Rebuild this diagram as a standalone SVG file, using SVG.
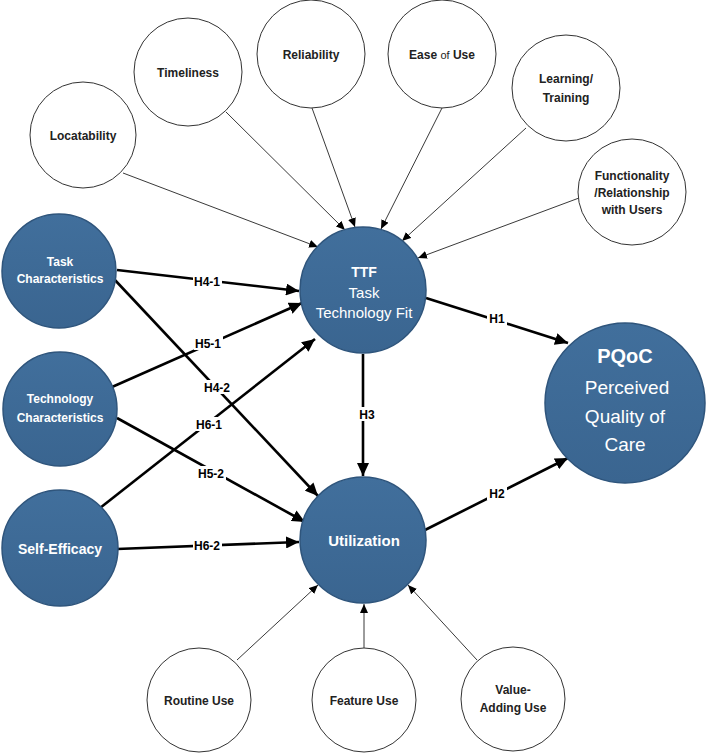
<svg xmlns="http://www.w3.org/2000/svg" width="709" height="753" viewBox="0 0 709 753">
<defs>
<linearGradient id="blue" x1="0" y1="0" x2="0" y2="1">
<stop offset="0" stop-color="#416f9c"/>
<stop offset="1" stop-color="#3a6590"/>
</linearGradient>
<marker id="ah" markerUnits="userSpaceOnUse" markerWidth="14" markerHeight="12" refX="13" refY="6" orient="auto">
<path d="M0,0 L13,6 L0,12 z" fill="#000"/>
</marker>
<marker id="at" markerUnits="userSpaceOnUse" markerWidth="10" markerHeight="8" refX="9" refY="4" orient="auto">
<path d="M0,0 L9,4 L0,8 z" fill="#000"/>
</marker>
</defs>
<style>
.w{fill:#fff;stroke:#333;stroke-width:1}
.b{fill:url(#blue);stroke:#2f557c;stroke-width:1.5}
.wt{font-family:"Liberation Sans",Arial,sans-serif;font-size:12px;font-weight:bold;fill:#222;text-anchor:middle}
.bt{font-family:"Liberation Sans",Arial,sans-serif;font-weight:bold;fill:#fff;text-anchor:middle}
.br{font-family:"Liberation Sans",Arial,sans-serif;fill:#fff;text-anchor:middle}
.thin{stroke:#222;stroke-width:0.9;fill:none;marker-end:url(#at)}
.thick{stroke:#000;stroke-width:2.6;fill:none;marker-end:url(#ah)}
.lb{font-family:"Liberation Sans",Arial,sans-serif;font-size:12px;font-weight:bold;fill:#000;text-anchor:middle}
.lbg{fill:#fff}
</style>
<g id="connectors">
<line class="thin" x1="123" y1="173" x2="318" y2="247"/>
<line class="thin" x1="226" y1="112" x2="345" y2="230"/>
<line class="thin" x1="312" y1="108" x2="355" y2="227"/>
<line class="thin" x1="442" y1="108" x2="381" y2="229"/>
<line class="thin" x1="526" y1="128" x2="402" y2="241"/>
<line class="thin" x1="579" y1="198" x2="418" y2="258"/>
<line class="thin" x1="237" y1="660" x2="318" y2="585"/>
<line class="thin" x1="364" y1="648" x2="364" y2="604"/>
<line class="thin" x1="477" y1="660" x2="408" y2="585"/>
<line class="thick" x1="117" y1="270" x2="299" y2="291"/>
<line class="thick" x1="112" y1="387" x2="302" y2="303"/>
<line class="thick" x1="100" y1="508" x2="315" y2="339"/>
<line class="thick" x1="114" y1="279" x2="318" y2="496"/>
<line class="thick" x1="117" y1="418" x2="305" y2="522"/>
<line class="thick" x1="117" y1="549" x2="299" y2="542"/>
<line class="thick" x1="363" y1="354" x2="363" y2="476"/>
<line class="thick" x1="426" y1="298" x2="568" y2="343"/>
<line class="thick" x1="425" y1="530" x2="568" y2="458"/>
<rect class="lbg" x="193" y="274" width="29" height="14"/><text class="lb" x="207" y="286">H4-1</text>
<rect class="lbg" x="194" y="336" width="29" height="14"/><text class="lb" x="208" y="348">H5-1</text>
<rect class="lbg" x="203" y="380" width="29" height="14"/><text class="lb" x="217" y="392">H4-2</text>
<rect class="lbg" x="195" y="417" width="29" height="14"/><text class="lb" x="209" y="429">H6-1</text>
<rect class="lbg" x="197" y="466" width="29" height="14"/><text class="lb" x="211" y="478">H5-2</text>
<rect class="lbg" x="193" y="538" width="29" height="14"/><text class="lb" x="207" y="550">H6-2</text>
<rect class="lbg" x="356" y="407" width="22" height="14"/><text class="lb" x="367" y="419">H3</text>
<rect class="lbg" x="487" y="311" width="20" height="14"/><text class="lb" x="497" y="323">H1</text>
<rect class="lbg" x="487" y="486" width="20" height="14"/><text class="lb" x="497" y="498">H2</text>
</g>
<g id="locatability"><ellipse class="w" cx="83" cy="135" rx="53" ry="53"/><text class="wt" x="83" y="140">Locatability</text></g>
<g id="timeliness"><ellipse class="w" cx="188" cy="72" rx="54" ry="54"/><text class="wt" x="188" y="77">Timeliness</text></g>
<g id="reliability"><ellipse class="w" cx="311" cy="54" rx="54" ry="54"/><text class="wt" x="311" y="59">Reliability</text></g>
<g id="easeofuse"><ellipse class="w" cx="442" cy="54" rx="54" ry="54"/><text class="wt" x="442" y="59">Ease <tspan font-weight="normal" font-size="11">of</tspan> Use</text></g>
<g id="learning"><ellipse class="w" cx="566" cy="88" rx="54" ry="53"/><text class="wt" x="566" y="83">Learning/</text><text class="wt" x="566" y="102">Training</text></g>
<g id="functionality"><ellipse class="w" cx="632" cy="192" rx="54" ry="53"/><text class="wt" x="632" y="180">Functionality</text><text class="wt" x="632" y="197">/Relationship</text><text class="wt" x="632" y="214">with Users</text></g>
<g id="task"><circle class="b" cx="59" cy="271" r="57"/><text class="bt" font-size="12" x="60" y="266">Task</text><text class="bt" font-size="12" x="60" y="283">Characteristics</text></g>
<g id="technology"><circle class="b" cx="60" cy="409" r="57"/><text class="bt" font-size="12" x="60" y="403">Technology</text><text class="bt" font-size="12" x="60" y="422">Characteristics</text></g>
<g id="selfefficacy"><circle class="b" cx="60" cy="548" r="58"/><text class="bt" font-size="14" x="60" y="554">Self-Efficacy</text></g>
<g id="ttf"><circle class="b" cx="363" cy="290" r="63"/><text class="bt" font-size="14" x="364" y="277">TTF</text><text class="br" font-size="15" x="364" y="298">Task</text><text class="br" font-size="15" x="364" y="318">Technology Fit</text></g>
<g id="utilization"><circle class="b" cx="363" cy="540" r="63"/><text class="bt" font-size="15" x="364" y="546">Utilization</text></g>
<g id="pqoc"><circle class="b" cx="625" cy="403" r="80"/><text class="bt" font-size="20" x="625" y="363">PQoC</text><text class="br" font-size="19" x="627" y="394">Perceived</text><text class="br" font-size="19" x="625" y="423">Quality of</text><text class="br" font-size="19" x="625" y="451">Care</text></g>
<g id="routineuse"><circle class="w" cx="199" cy="700" r="52"/><text class="wt" x="199" y="705">Routine Use</text></g>
<g id="featureuse"><circle class="w" cx="364" cy="700" r="52"/><text class="wt" x="364" y="705">Feature Use</text></g>
<g id="valueadding"><circle class="w" cx="513" cy="699" r="52"/><text class="wt" x="513" y="694">Value-</text><text class="wt" x="513" y="712">Adding Use</text></g>
</svg>
